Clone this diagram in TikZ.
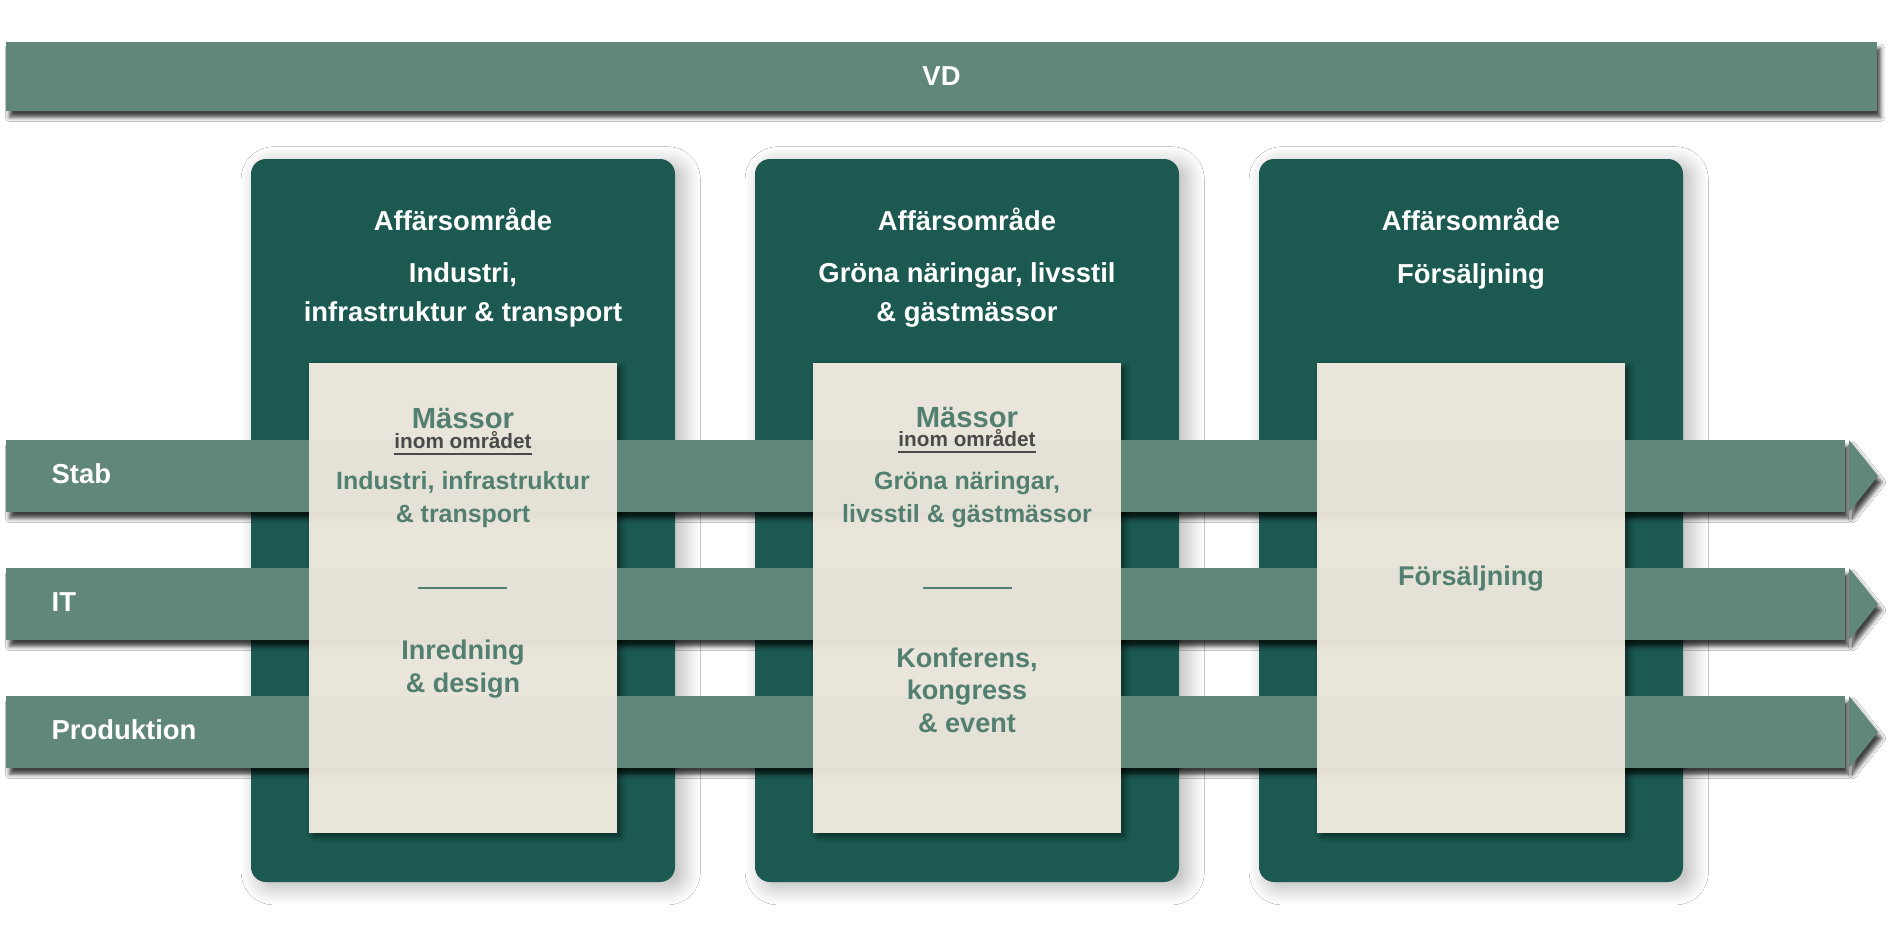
\documentclass[tikz,border=0pt]{standalone}
\usepackage{fontspec}
\setmainfont{Liberation Sans}
\usetikzlibrary{shapes,arrows,backgrounds,positioning,shadows,shadows.blur}
\definecolor{vdgreen}{HTML}{60877A}
\definecolor{colgreen}{HTML}{1B5951}
\definecolor{creamcol}{HTML}{E9E5DA}
\definecolor{txtgreen}{HTML}{527F70}
\definecolor{inomgrey}{HTML}{4A4A4A}
\tikzset{
  bar/.style = {rectangle, fill=vdgreen, inner sep=0pt, outer sep=0pt,
    blur shadow={shadow xshift=1pt, shadow yshift=-1.8pt,
      shadow blur radius=1.2pt, shadow opacity=75}},% VD och band
  tip/.style = {fill=vdgreen, blur shadow={shadow xshift=1pt,
      shadow yshift=-1.8pt, shadow blur radius=1.2pt, shadow opacity=75}},% pilspets
  colbox/.style = {rectangle, rounded corners=1.5mm, fill=colgreen,
    inner sep=0pt, outer sep=0pt, minimum width=42.4mm, minimum height=72.3mm,
    blur shadow={shadow xshift=2.2pt, shadow yshift=-1.5pt,
      shadow blur radius=5pt, shadow blur steps=20, shadow opacity=30}},% affärsområde
  creambase/.style = {rectangle, fill=creamcol, inner sep=0pt,
    outer sep=0pt, minimum width=30.8mm, minimum height=47mm,
    blur shadow={shadow xshift=1.2pt, shadow yshift=-1.2pt,
      shadow blur radius=1.5pt, shadow opacity=45}},% ljus ruta, botten
  cream/.style = {rectangle, fill=creamcol, fill opacity=.97, inner sep=0pt,
    outer sep=0pt, minimum width=30.8mm, minimum height=47mm},% ljus ruta, ovanpå
  head/.style = {align=center, text=white, inner sep=0pt,
    font=\fontsize{7.8}{11}\selectfont\bfseries},
  mass/.style = {text=txtgreen, inner sep=0pt,
    font=\fontsize{8.3}{10}\selectfont\bfseries},
  inom/.style = {text=inomgrey, inner sep=0pt,
    font=\fontsize{5.9}{7}\selectfont\bfseries},
  sub/.style = {align=center, text=txtgreen, inner sep=0pt,
    font=\fontsize{7.1}{9.4}\selectfont\bfseries},
  item/.style = {align=center, text=txtgreen, inner sep=0pt,
    font=\fontsize{7.7}{9.2}\selectfont\bfseries},
  lbl/.style = {anchor=west, text=white, inner sep=0pt,
    font=\fontsize{7.8}{9}\selectfont\bfseries},
  sepline/.style = {draw=txtgreen, line width=0.6pt}
}
\begin{document}
\begin{tikzpicture}[x=0.1mm,y=-0.1mm]
        \fill[white] (0,0) rectangle (1890,937);
        \useasboundingbox (0,0) rectangle (1890,937);

        \node [bar, minimum width=187.1mm, minimum height=6.9mm, text=white,
          font=\fontsize{7.8}{9}\selectfont\bfseries] (VD) at (941.5,76.5) {VD};

        \node [colbox](A) at (463,520.5){};
        \node [colbox, right= 8mm of A](B){};
        \node [colbox, right= 8mm of B](C){};

        \node [creambase](A0) at (463,598){};
        \node [creambase](B0) at (967,598){};
        \node [creambase](C0) at (1471,598){};

        \node [bar, anchor=west, minimum width=183.9mm, minimum height=7.2mm](S) at (6,476){};
        \node [bar, anchor=west, minimum width=183.9mm, minimum height=7.2mm](I) at (6,604){};
        \node [bar, anchor=west, minimum width=183.9mm, minimum height=7.2mm](P) at (6,732){};
        \fill [tip] ([xshift=0.4mm]S.north east) -- ([xshift=3.3mm]S.east) -- ([xshift=0.4mm]S.south east) -- cycle;
        \fill [tip] ([xshift=0.4mm]I.north east) -- ([xshift=3.3mm]I.east) -- ([xshift=0.4mm]I.south east) -- cycle;
        \fill [tip] ([xshift=0.4mm]P.north east) -- ([xshift=3.3mm]P.east) -- ([xshift=0.4mm]P.south east) -- cycle;

        \node [lbl](LS) at (51,474){Stab};
        \node [lbl](LI) at (51,602){IT};
        \node [lbl](LP) at (51,730){Produktion};

        \node [cream](A1) at (A0){};
        \node [cream](B1) at (B0){};
        \node [cream](C1) at (C0){};

        % rubriker
        \node [head](TA) at (463,219){Affärsområde};
        \node [head](NA) at (463,295){Industri,\\infrastruktur \& transport};
        \node [head](TB) at (967,219){Affärsområde};
        \node [head](NB) at (967,295){Gröna näringar, livsstil\\\& gästmässor};
        \node [head](TC) at (1471,219){Affärsområde};
        \node [head](NC) at (1471,276){Försäljning};

        % innehåll
        \node [mass](MA) at (463,419){Mässor};
        \node [inom](OA) at (463,444){\underline{inom området}};
        \node [sub](SA) at (463,500){Industri, infrastruktur\\\& transport};
        \coordinate (LA1) at (418,588);
        \coordinate (LA2) at (507,588);
        \draw [sepline] (LA1) -- (LA2);
        \node [item](IA) at (463,669){Inredning\\\& design};

        \node [mass](MB) at (967,418){Mässor};
        \node [inom](OB) at (967,442){\underline{inom området}};
        \node [sub](SB) at (967,500){Gröna näringar,\\livsstil \& gästmässor};
        \coordinate (LB1) at (923,588);
        \coordinate (LB2) at (1012,588);
        \draw [sepline] (LB1) -- (LB2);
        \node [item](IB) at (967,690){Konferens,\\kongress\\\& event};

        \node [item](IC) at (1471,579){Försäljning};

\end{tikzpicture}
\end{document}
